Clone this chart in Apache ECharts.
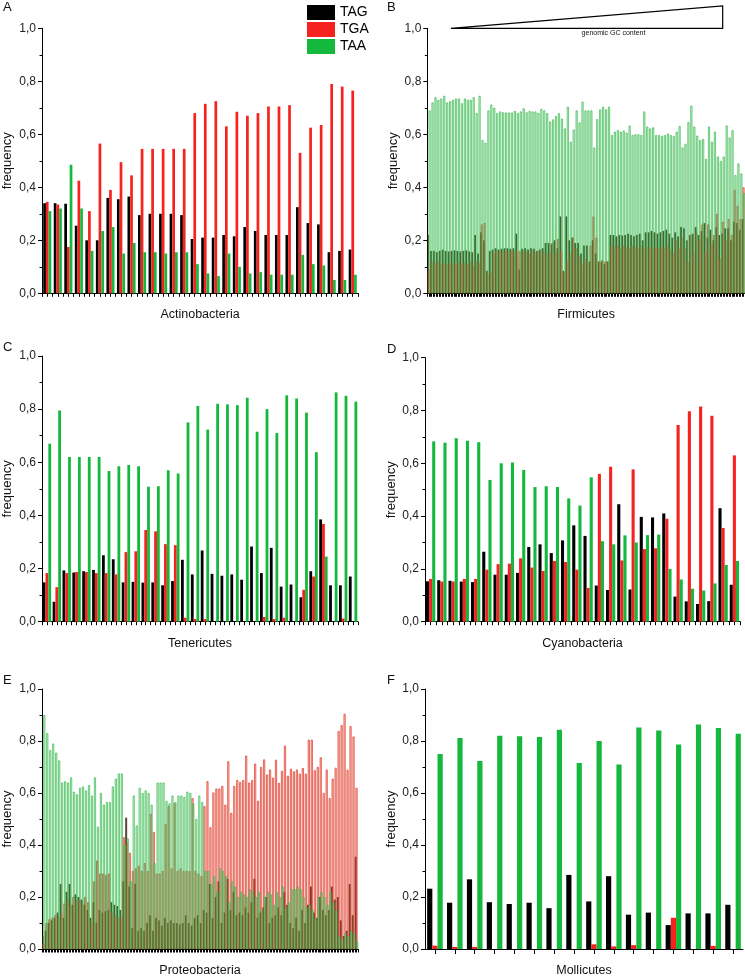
<!DOCTYPE html>
<html><head><meta charset="utf-8">
<script src="https://cdn.jsdelivr.net/npm/echarts@6/dist/echarts.min.js"></script>
<style>html,body{margin:0;padding:0;background:#fff}#c{width:745px;height:978px}</style>
</head><body><div id="c"></div>
<script>
// ---------------- DATA ----------------
const stopCodons = ['TAG', 'TGA', 'TAA'];
const yTickValues = [0, 0.2, 0.4, 0.6, 0.8, 1.0];
const panelTitles = ['Actinobacteria', 'Firmicutes', 'Tenericutes', 'Cyanobacteria', 'Proteobacteria', 'Mollicutes'];
const panelLetters = ['A', 'B', 'C', 'D', 'E', 'F'];

// A: Actinobacteria (30 genomes)
const actinoTAG = [0.34,0.34,0.338,0.255,0.2,0.2,0.36,0.355,0.365,0.295,0.3,0.3,0.3,0.295,0.205,0.21,0.21,0.22,0.215,0.25,0.235,0.22,0.22,0.22,0.325,0.265,0.26,0.155,0.16,0.165];
const actinoTGA = [0.345,0.335,0.175,0.425,0.31,0.565,0.39,0.495,0.445,0.545,0.545,0.545,0.545,0.545,0.68,0.715,0.725,0.63,0.685,0.67,0.68,0.705,0.705,0.71,0.53,0.625,0.635,0.79,0.78,0.765];
const actinoTAA = [0.31,0.32,0.485,0.32,0.16,0.235,0.25,0.15,0.19,0.155,0.155,0.15,0.155,0.155,0.11,0.075,0.065,0.15,0.1,0.075,0.08,0.07,0.07,0.07,0.145,0.11,0.105,0.05,0.05,0.07];

// B: Firmicutes (108 genomes)
const firmiTAG = [0.22,0.16,0.16,0.155,0.16,0.165,0.16,0.158,0.16,0.162,0.16,0.158,0.16,0.162,0.158,0.155,0.22,0.15,0.23,0.2,0.085,0.16,0.165,0.17,0.165,0.168,0.17,0.17,0.168,0.17,0.225,0.09,0.168,0.17,0.165,0.17,0.168,0.16,0.165,0.17,0.19,0.19,0.185,0.2,0.17,0.29,0.085,0.29,0.2,0.21,0.19,0.19,0.15,0.18,
  0.18,0.12,0.2,0.15,0.12,0.12,0.11,0.12,0.22,0.22,0.215,0.22,0.218,0.22,0.225,0.22,0.215,0.22,0.225,0.2,0.23,0.23,0.235,0.23,0.225,0.23,0.235,0.24,0.225,0.21,0.23,0.215,0.25,0.245,0.2,0.22,0.225,0.25,0.22,0.235,0.265,0.21,0.24,0.2,0.25,0.22,0.225,0.245,0.245,0.2,0.27,0.265,0.24,0.28];
const firmiTGA = [0.09,0.12,0.115,0.12,0.11,0.115,0.11,0.115,0.11,0.11,0.12,0.11,0.115,0.11,0.12,0.105,0.12,0.115,0.26,0.265,0.075,0.08,0.15,0.16,0.16,0.158,0.16,0.16,0.158,0.16,0.155,0.16,0.16,0.158,0.15,0.16,0.155,0.16,0.16,0.155,0.15,0.15,0.19,0.15,0.205,0.16,0.08,0.12,0.15,0.21,0.17,0.14,0.11,0.13,
  0.12,0.18,0.29,0.21,0.12,0.125,0.12,0.12,0.18,0.175,0.18,0.17,0.18,0.175,0.17,0.18,0.175,0.17,0.18,0.17,0.175,0.17,0.175,0.17,0.17,0.175,0.17,0.18,0.165,0.15,0.2,0.17,0.21,0.17,0.12,0.22,0.15,0.23,0.2,0.26,0.16,0.26,0.18,0.22,0.3,0.13,0.27,0.2,0.28,0.22,0.39,0.33,0.28,0.4];
const firmiTAA = [0.69,0.72,0.74,0.73,0.735,0.745,0.72,0.725,0.73,0.735,0.735,0.717,0.735,0.73,0.73,0.74,0.68,0.745,0.578,0.568,0.69,0.712,0.70,0.68,0.686,0.683,0.682,0.682,0.682,0.688,0.68,0.686,0.698,0.683,0.688,0.686,0.686,0.68,0.696,0.69,0.68,0.648,0.656,0.669,0.68,0.659,0.622,0.704,0.572,0.618,0.69,0.645,0.723,0.69,
  0.69,0.69,0.55,0.657,0.694,0.704,0.694,0.704,0.597,0.61,0.616,0.61,0.614,0.606,0.633,0.597,0.60,0.60,0.597,0.686,0.629,0.622,0.626,0.597,0.597,0.593,0.597,0.603,0.597,0.593,0.61,0.631,0.55,0.564,0.646,0.708,0.629,0.595,0.578,0.582,0.507,0.629,0.572,0.61,0.516,0.499,0.516,0.633,0.588,0.616,0.446,0.49,0.452,0.377];

// C: Tenericutes (32 genomes)
const teneTAG = [0.148,0.075,0.193,0.185,0.19,0.195,0.25,0.235,0.148,0.15,0.147,0.148,0.137,0.153,0.233,0.178,0.268,0.18,0.173,0.178,0.158,0.283,0.183,0.278,0.132,0.14,0.092,0.19,0.385,0.137,0.137,0.17];
const teneTGA = [0.183,0.13,0.183,0.187,0.187,0.183,0.183,0.178,0.262,0.265,0.345,0.34,0.292,0.288,0.015,0.01,0.01,0,0,0,0,0,0.018,0.01,0.015,0,0.12,0.17,0.368,0,0.012,0];
const teneTAA = [0.67,0.795,0.62,0.62,0.62,0.62,0.567,0.585,0.59,0.585,0.508,0.51,0.57,0.558,0.75,0.812,0.723,0.82,0.818,0.815,0.843,0.715,0.8,0.71,0.852,0.84,0.787,0.638,0.245,0.863,0.85,0.828];

// D: Cyanobacteria (28 genomes)
const cyanoTAG = [0.153,0.157,0.155,0.152,0.15,0.265,0.178,0.178,0.185,0.283,0.293,0.26,0.308,0.365,0.325,0.137,0.12,0.445,0.122,0.397,0.395,0.41,0.095,0.077,0.067,0.078,0.43,0.14];
const cyanoTGA = [0.162,0.152,0.152,0.162,0.162,0.197,0.218,0.22,0.24,0.205,0.192,0.23,0.226,0.197,0.128,0.56,0.587,0.232,0.577,0.275,0.278,0.39,0.745,0.797,0.815,0.78,0.355,0.63];
const cyanoTAA = [0.683,0.678,0.695,0.685,0.68,0.537,0.6,0.603,0.575,0.51,0.513,0.51,0.467,0.44,0.547,0.305,0.293,0.327,0.3,0.328,0.33,0.2,0.16,0.125,0.118,0.145,0.215,0.23];

// E: Proteobacteria (106 genomes)
const proteoTAG = [0.05,0.07,0.1,0.11,0.12,0.14,0.25,0.12,0.22,0.25,0.17,0.21,0.2,0.19,0.17,0.15,0.12,0.18,0.1,0.15,0.14,0.145,0.15,0.18,0.17,0.165,0.15,0.26,0.505,0.24,0.08,0.25,0.07,0.08,0.07,0.1,0.13,0.07,0.12,0.11,0.09,0.12,0.1,0.11,0.1,0.1,0.095,0.1,0.13,0.1,0.09,0.12,0.13,0.1,
  0.15,0.14,0.25,0.12,0.2,0.26,0.1,0.14,0.27,0.15,0.22,0.13,0.14,0.13,0.16,0.14,0.18,0.27,0.12,0.14,0.16,0.2,0.1,0.12,0.13,0.16,0.13,0.22,0.17,0.1,0.08,0.12,0.07,0.15,0.1,0.17,0.24,0.14,0.12,0.2,0.15,0.13,0.15,0.24,0.19,0.2,0.11,0.05,0.07,0.25,0.13,0.355];
const proteoTGA = [0.02,0.1,0.115,0.12,0.13,0.125,0.14,0.175,0.19,0.17,0.2,0.185,0.19,0.175,0.2,0.18,0.1,0.26,0.34,0.29,0.29,0.285,0.29,0.14,0.13,0.12,0.12,0.43,0.41,0.37,0.3,0.31,0.32,0.3,0.33,0.3,0.52,0.45,0.29,0.29,0.3,0.48,0.55,0.31,0.56,0.3,0.31,0.3,0.3,0.3,0.58,0.3,0.29,0.28,
  0.549,0.645,0.468,0.602,0.617,0.617,0.627,0.555,0.722,0.523,0.627,0.65,0.642,0.65,0.744,0.64,0.65,0.713,0.57,0.7,0.729,0.671,0.69,0.659,0.728,0.639,0.685,0.782,0.666,0.693,0.683,0.69,0.674,0.696,0.674,0.805,0.805,0.687,0.7,0.737,0.6,0.69,0.58,0.655,0.697,0.838,0.861,0.904,0.689,0.857,0.817,0.62];
const proteoTAA = [0.9,0.83,0.765,0.79,0.755,0.725,0.64,0.645,0.64,0.66,0.605,0.595,0.62,0.625,0.61,0.63,0.59,0.66,0.47,0.6,0.555,0.565,0.565,0.625,0.655,0.675,0.675,0.4,0.425,0.26,0.59,0.475,0.62,0.6,0.61,0.6,0.555,0.33,0.64,0.64,0.64,0.57,0.56,0.59,0.565,0.59,0.59,0.585,0.605,0.6,0.56,0.5,0.59,0.565,
  0.3,0.3,0.25,0.28,0.22,0.31,0.3,0.28,0.18,0.26,0.24,0.2,0.22,0.21,0.2,0.23,0.22,0.2,0.22,0.15,0.2,0.22,0.21,0.17,0.22,0.2,0.24,0.16,0.18,0.23,0.23,0.24,0.23,0.2,0.16,0.17,0.15,0.12,0.2,0.22,0.2,0.17,0.22,0.18,0.15,0.05,0.04,0.06,0.05,0.07,0.06,0.03];

// F: Mollicutes (16 genomes)
const molliTAG = [0.232,0.178,0.268,0.18,0.173,0.178,0.157,0.285,0.183,0.28,0.132,0.14,0.092,0.137,0.137,0.17];
const molliTGA = [0.013,0.008,0.008,0,0,0,0,0,0.018,0.01,0.015,0,0.12,0,0.012,0];
const molliTAA = [0.75,0.812,0.723,0.82,0.818,0.815,0.843,0.715,0.8,0.71,0.852,0.84,0.787,0.863,0.85,0.828];

// ---------------- LAYOUT / STYLE ----------------
const FONT = '"Liberation Sans", Arial, Helvetica, sans-serif';
const SOLID = ['#000000', '#f5221f', '#14b83c'];
const DENSE = [
  {color: 'rgba(45,25,8,0.8)', borderWidth: 0},
  {color: 'rgba(240,120,60,0.35)', borderColor: 'rgba(220,40,30,0.95)', borderWidth: 0.7},
  {color: 'rgba(150,235,160,0.38)', borderColor: 'rgba(45,180,70,0.95)', borderWidth: 0.7}
];
const panelData = [
  [actinoTAG, actinoTGA, actinoTAA],
  [firmiTAG, firmiTGA, firmiTAA],
  [teneTAG, teneTGA, teneTAA],
  [cyanoTAG, cyanoTGA, cyanoTAA],
  [proteoTAG, proteoTGA, proteoTAA],
  [molliTAG, molliTGA, molliTAA]
];
const layout = [
  {grid: {left: 41, top: 28.3, width: 317, height: 265}, dense: false, barW: 2.7, letter: [3, 1], nameGap: 28, tickMode: 'half'},
  {grid: {left: 427.3, top: 28.3, width: 318, height: 265}, dense: true, barW: 2, letter: [387, 1], nameGap: 27, tickMode: 'half'},
  {grid: {left: 40, top: 356, width: 318, height: 265.7}, dense: false, barW: 2.8, letter: [3, 341], nameGap: 28, tickMode: 'half'},
  {grid: {left: 425, top: 357.7, width: 315, height: 264}, dense: false, barW: 3.1, letter: [387, 343], nameGap: 27, tickMode: 'half'},
  {grid: {left: 40, top: 689, width: 318, height: 264.3}, dense: true, barW: 2, letter: [3, 674], nameGap: 28, tickMode: 'half'},
  {grid: {left: 425, top: 689, width: 318, height: 264.3}, dense: false, barW: 5.2, letter: [387, 674], nameGap: 27, tickMode: 'center'}
];

const grids = [], xAxes = [], yAxes = [], series = [], graphics = [];
layout.forEach((p, i) => {
  const n = panelData[i][0].length;
  const cats = panelData[i][0].map((_, k) => String(k + 1));
  grids.push(Object.assign({containLabel: false}, p.grid));
  // data axis
  xAxes.push({
    type: 'category', gridIndex: i, data: cats, boundaryGap: true,
    name: panelTitles[i], nameLocation: 'middle', nameGap: 15,
    nameTextStyle: {fontSize: 12.5, color: '#111', fontFamily: FONT},
    axisLine: {show: true, lineStyle: {color: '#000', width: 1}},
    axisLabel: {show: false},
    axisTick: p.tickMode === 'center'
      ? {show: true, alignWithLabel: true, interval: 0, length: 5, lineStyle: {color: '#000'}}
      : {show: false},
    splitLine: {show: false}
  });
  yAxes.push({
    type: 'value', gridIndex: i, min: yTickValues[0], max: yTickValues[yTickValues.length - 1],
    interval: yTickValues[1] - yTickValues[0],
    name: 'frequency', nameLocation: 'middle', nameGap: p.nameGap, nameRotate: 90,
    nameTextStyle: {fontSize: 13, color: '#111', fontFamily: FONT},
    axisLine: {show: true, lineStyle: {color: '#000', width: 1}},
    axisTick: {show: true, length: 4, lineStyle: {color: '#000'}},
    minorTick: {show: true, splitNumber: 2, length: 2.5, lineStyle: {color: '#000'}},
    axisLabel: {fontSize: 12, color: '#222', fontFamily: FONT, margin: 6,
      formatter: v => v.toFixed(1).replace('.', ',')},
    splitLine: {show: false}
  });
  panelData[i].forEach((vals, s) => {
    series.push({
      type: 'bar', name: stopCodons[s], xAxisIndex: xAxes.length - 1, yAxisIndex: i,
      data: vals, barWidth: p.barW, barGap: p.dense ? '-60%' : '0%',
      itemStyle: p.dense ? DENSE[s] : {color: SOLID[s]},
      emphasis: {disabled: true}, silent: true
    });
  });
  if (p.tickMode === 'half') {
    // tick-only axis: two ticks per genome (group boundaries and centres)
    const halfCats = [];
    for (let k = 0; k < 2 * n; k++) halfCats.push('t' + k);
    xAxes.push({
      type: 'category', gridIndex: i, data: halfCats, boundaryGap: true, position: 'bottom',
      axisLine: {show: false}, axisLabel: {show: false},
      axisTick: {show: true, interval: 0, length: 3.5, lineStyle: {color: '#000', width: 1}},
      splitLine: {show: false}
    });
  }
  graphics.push({
    type: 'text', left: p.letter[0], top: p.letter[1],
    style: {text: panelLetters[i], fontSize: 13, fill: '#111', font: '13px ' + FONT}
  });
});

// GC-content triangle annotation in panel B
graphics.push({
  type: 'polygon', shape: {points: [[451, 28.3], [722.7, 6], [722.7, 28.3]]},
  style: {fill: 'none', stroke: '#000', lineWidth: 1.2}
});
graphics.push({
  type: 'text', x: 613.5, y: 33.5,
  style: {text: 'genomic GC content', font: '7px ' + FONT, fill: '#111', textAlign: 'center', textVerticalAlign: 'middle'}
});

const chart = echarts.init(document.getElementById('c'), null, {renderer: 'canvas'});
chart.setOption({
  animation: false,
  backgroundColor: '#fff',
  legend: {
    data: stopCodons.map((nm, s) => ({name: nm, itemStyle: {color: SOLID[s], borderWidth: 0}})),
    orient: 'vertical', left: 302, top: 0, itemWidth: 28, itemHeight: 15, itemGap: 2,
    icon: 'rect', selectedMode: false,
    textStyle: {fontSize: 14, color: '#000', fontFamily: FONT}
  },
  grid: grids, xAxis: xAxes, yAxis: yAxes, series: series, graphic: graphics
});
</script></body></html>
